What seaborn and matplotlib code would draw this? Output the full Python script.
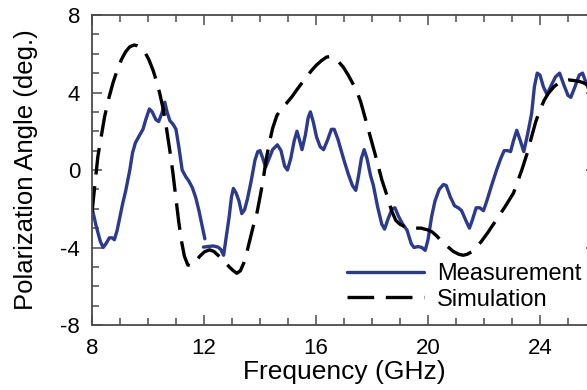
import numpy as np
import pandas as pd
import matplotlib
matplotlib.use("Agg")
import matplotlib.pyplot as plt
from matplotlib.ticker import MultipleLocator
import seaborn as sns

# Measured polarization angle (deg.) vs frequency (GHz), two sweep segments
meas_freq_a = [8.00, 8.15, 8.30, 8.40, 8.50, 8.62, 8.72, 8.80, 8.90, 9.00, 9.10, 9.20,
               9.35, 9.45, 9.55, 9.70, 9.82, 9.92, 10.05, 10.15, 10.28, 10.38, 10.50,
               10.60, 10.68, 10.78, 10.90, 11.00, 11.10, 11.22, 11.35, 11.45, 11.58,
               11.70, 11.82, 11.95, 12.03]
meas_angle_a = [-1.95, -2.9, -3.7, -4.0, -3.8, -3.5, -3.5, -3.6, -3.1, -2.4, -1.7, -1.1,
                0.0, 0.9, 1.4, 1.8, 2.1, 2.6, 3.15, 3.0, 2.6, 2.5, 2.95,
                3.5, 3.0, 2.55, 2.35, 2.1, 1.2, 0.0, -0.35, -0.55, -0.9,
                -1.4, -2.1, -3.0, -3.55]

meas_freq_b = [11.98, 12.15, 12.33, 12.50, 12.60, 12.70, 12.80, 12.90, 12.98, 13.05,
               13.15, 13.25, 13.35, 13.45, 13.55, 13.68, 13.82, 13.92, 14.00, 14.10,
               14.20, 14.30, 14.45, 14.62, 14.75, 14.88, 14.98, 15.10, 15.22, 15.32,
               15.42, 15.50, 15.62, 15.72, 15.80, 15.90, 16.02, 16.15, 16.27, 16.40,
               16.55, 16.65, 16.78, 16.90, 17.00, 17.15, 17.30, 17.42, 17.52, 17.62,
               17.72, 17.82, 17.95, 18.05, 18.20, 18.35, 18.45, 18.58, 18.72, 18.82,
               18.95, 19.10, 19.25, 19.40, 19.50, 19.65, 19.78, 19.90, 20.00, 20.13,
               20.25, 20.40, 20.55, 20.65, 20.80, 20.95, 21.08, 21.20, 21.35, 21.48,
               21.58, 21.72, 21.85, 21.98, 22.10, 22.27, 22.45, 22.60, 22.72, 22.85,
               22.95, 23.05, 23.17, 23.30, 23.42, 23.55, 23.70, 23.80, 23.90, 24.00,
               24.12, 24.25, 24.38, 24.55, 24.70, 24.85, 25.00, 25.10, 25.25, 25.40,
               25.52, 25.62, 25.75]
meas_angle_b = [-3.98, -3.95, -3.92, -3.98, -4.1, -4.4, -3.4, -2.4, -1.4, -0.95,
                -1.2, -1.6, -2.25, -2.05, -1.5, -0.6, 0.5, 0.95, 1.0, 0.6,
                0.15, 0.5, 1.05, 1.3, 1.0, 0.2, 0.0, 0.6, 1.5, 2.0,
                1.5, 1.05, 1.8, 2.7, 3.0, 2.5, 1.7, 1.2, 1.05, 1.5,
                2.1, 2.1, 1.6, 1.0, 0.5, -0.2, -0.8, -1.05, -0.3, 0.6,
                1.05, 0.6, -0.3, -0.8, -1.9, -2.8, -3.05, -2.5, -2.0, -1.95,
                -2.4, -2.8, -3.1, -3.8, -4.0, -3.95, -4.0, -4.15, -3.6, -2.4,
                -1.6, -1.0, -0.75, -0.8, -1.4, -1.85, -1.95, -2.1, -2.6, -3.0,
                -2.6, -1.95, -1.95, -2.1, -1.6, -0.8, 0.0, 0.6, 1.0, 1.0,
                0.95, 1.5, 2.05, 1.5, 0.95, 1.8, 2.9, 4.3, 5.0, 4.9,
                4.3, 3.9, 4.3, 4.8, 5.0, 4.4, 3.85, 3.75, 4.3, 4.9,
                5.0, 4.6, 4.1]

# Simulated polarization angle (deg.)
sim_freq = [8.00, 8.10, 8.21, 8.35, 8.45, 8.60, 8.75, 8.90, 9.05, 9.20, 9.35, 9.50,
            9.60, 9.75, 9.88, 10.03, 10.18, 10.30, 10.42, 10.55, 10.65, 10.78, 10.89,
            11.00, 11.10, 11.20, 11.30, 11.42, 11.55, 11.68, 11.85, 12.02, 12.20,
            12.35, 12.50, 12.70, 12.90, 13.05, 13.17, 13.30, 13.42, 13.52, 13.64,
            13.76, 13.88, 14.00, 14.10, 14.24, 14.35, 14.45, 14.60, 14.75, 14.95,
            15.15, 15.31, 15.50, 15.67, 15.85, 16.02, 16.20, 16.38, 16.50, 16.62,
            16.80, 16.98, 17.15, 17.30, 17.45, 17.60, 17.81, 18.00, 18.17, 18.35,
            18.52, 18.70, 18.85, 19.00, 19.20, 19.48, 19.75, 20.01, 20.15, 20.31,
            20.50, 20.70, 20.90, 21.10, 21.26, 21.40, 21.56, 21.74, 21.90, 22.15,
            22.45, 22.75, 23.05, 23.35, 23.55, 23.70, 23.85, 24.00, 24.15, 24.30,
            24.50, 24.65, 24.83, 25.01, 25.20, 25.43, 25.55, 25.75]
sim_angle = [-2.2, -0.8, 0.7, 1.9, 2.75, 3.7, 4.5, 5.15, 5.7, 6.1, 6.36, 6.45,
             6.42, 6.3, 6.1, 5.7, 5.15, 4.6, 3.95, 3.1, 2.25, 1.0, -0.15,
             -1.5, -2.7, -3.7, -4.45, -4.9, -4.95, -4.75, -4.45, -4.22, -4.12,
             -4.2, -4.4, -4.65, -5.0, -5.2, -5.33, -5.2, -4.8, -4.3, -3.6,
             -2.9, -2.3, -1.4, -0.6, 0.7, 1.5, 2.15, 2.8, 3.15, 3.45,
             3.8, 4.13, 4.5, 4.82, 5.15, 5.42, 5.65, 5.83, 5.85, 5.78,
             5.6, 5.3, 4.9, 4.5, 4.1, 3.5, 2.4, 1.4, 0.5, -0.5,
             -1.25, -2.1, -2.6, -2.8, -2.95, -3.0, -3.0, -3.1, -3.2, -3.4,
             -3.7, -3.95, -4.2, -4.35, -4.4, -4.35, -4.22, -3.95, -3.7, -3.2,
             -2.55, -1.9, -1.2, 0.0, 0.9, 1.72, 2.5, 3.1, 3.6, 3.96,
             4.3, 4.47, 4.6, 4.65, 4.62, 4.56, 4.5, 4.35]

x_ticks = [8, 12, 16, 20, 24]
y_ticks = [-8, -4, 0, 4, 8]
series_labels = ["Measurement", "Simulation"]

meas = pd.DataFrame({
    "freq": meas_freq_a + meas_freq_b,
    "angle": meas_angle_a + meas_angle_b,
    "seg": [0] * len(meas_freq_a) + [1] * len(meas_freq_b),
})
sim = pd.DataFrame({"freq": sim_freq, "angle": sim_angle})

sns.set_theme(style="ticks")
plt.rcParams["font.family"] = ["Liberation Sans", "DejaVu Sans"]
plt.rcParams["axes.unicode_minus"] = False
plt.rcParams["text.color"] = "black"

navy = "#2b3a8e"
W, H = 587, 390
fig = plt.figure(figsize=(W / 100, H / 100), dpi=100)
# plot frame: left spine at x=92 px, right spine just past the image edge
ax = fig.add_axes([92 / W, 65 / H, (596 - 92) / W, 310 / H])

sns.lineplot(data=meas, x="freq", y="angle", units="seg", estimator=None,
             color=navy, linewidth=2.4, ax=ax, sort=False)
sns.lineplot(data=sim, x="freq", y="angle", color="black", linewidth=2.4,
             linestyle=(0, (8, 3.5)), ax=ax, sort=False)
ax.lines[-1].set_dashes((8, 3.5))

ax.set_xlim(8, 26)
ax.set_ylim(-8, 8)
ax.set_xticks(x_ticks)
ax.set_yticks(y_ticks)
ax.xaxis.set_minor_locator(MultipleLocator(1))
ax.yaxis.set_minor_locator(MultipleLocator(1))

spine_col = "#4a4a4a"
for s in ax.spines.values():
    s.set_visible(True)
    s.set_color(spine_col)
    s.set_linewidth(1.3)
ax.tick_params(which="both", direction="in", top=True, right=True,
               color=spine_col, width=1.1, labelsize=16, labelcolor="black")
ax.tick_params(which="major", length=7.2)
ax.tick_params(which="minor", length=5)
ax.tick_params(axis="x", which="major", pad=9.5)
ax.tick_params(axis="y", which="major", pad=8.5)

ax.set_xlabel("Frequency (GHz)", fontsize=19, labelpad=0.5, color="black")
ax.set_ylabel("Polarization Angle (deg.)", fontsize=18.5, labelpad=16, color="black")

handles = [ax.lines[0], ax.lines[-1]]
leg = ax.legend(handles, series_labels, loc="upper left",
                bbox_to_anchor=(347 / W, (H - 263) / H), bbox_transform=fig.transFigure,
                frameon=False, fontsize=17, handlelength=3.25, handletextpad=0.55,
                labelspacing=0.15, borderpad=0, borderaxespad=0, labelcolor="black")
leg.get_lines()[1].set_dashes((8, 3.5))

fig.savefig("out.png", dpi=100)
